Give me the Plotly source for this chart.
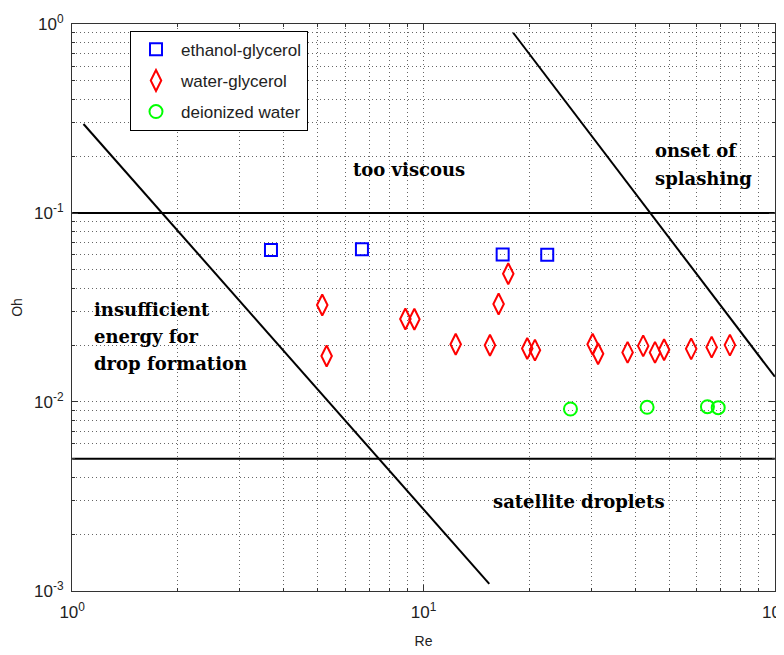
import plotly.graph_objects as go

# ---- data ----
re_eg = [3.68, 6.68, 16.8, 22.5]
oh_eg = [0.0637, 0.0643, 0.0604, 0.0602]

re_wg = [5.15, 5.30, 8.88, 9.42, 12.35, 15.46, 16.36, 17.43, 19.74, 20.76,
         30.3, 31.4, 38.1, 42.2, 45.6, 48.4, 57.8, 66.1, 74.5]
oh_wg = [0.0326, 0.0175, 0.0275, 0.0274, 0.0202, 0.01995, 0.0330, 0.0477, 0.0192, 0.0188,
         0.0202, 0.0180, 0.0183, 0.0198, 0.0183, 0.0189, 0.0191, 0.0195, 0.0200]

re_dw = [26.2, 43.3, 64.3, 69.0]
oh_dw = [0.00918, 0.00937, 0.00944, 0.00933]

# boundary lines
re_low = [1.077, 15.39]
oh_low = [0.296, 0.00109]
re_splash = [18.0, 100.0]
oh_splash = [0.90, 0.0136]
re_span = [1.0, 100.0]
oh_viscous = [0.1, 0.1]
oh_satellite = [0.005, 0.005]

# axis ticks
x_tickvals = [1, 10, 100]
x_ticktext = ["10<sup>0</sup>", "10<sup>1</sup>", "10<sup>2</sup>"]
y_tickvals = [0.001, 0.01, 0.1, 1]
y_ticktext = ["10<sup>-3</sup>", "10<sup>-2</sup>", "10<sup>-1</sup>", "10<sup>0</sup>"]
x_minor = [m * d for d in (1, 10) for m in range(2, 10)]
y_minor = [m * d for d in (0.001, 0.01, 0.1) for m in range(2, 10)]

# region labels: (text, log10 Re, log10 Oh, anchor)
labels = [
    ("too viscous", 0.960, -0.767, "center"),
    ("onset of", 1.653, -0.667, "left"),
    ("splashing", 1.653, -0.815, "left"),
    ("insufficient", 0.057, -1.508, "left"),
    ("energy for", 0.057, -1.656, "left"),
    ("drop formation", 0.057, -1.799, "left"),
    ("satellite droplets", 1.442, -2.527, "center"),
]

fig = go.Figure()

line_style = dict(color="black", width=2)
for xs, ys in [(re_low, oh_low), (re_splash, oh_splash),
               (re_span, oh_viscous), (re_span, oh_satellite)]:
    fig.add_trace(go.Scatter(x=xs, y=ys, mode="lines", line=line_style,
                             showlegend=False, hoverinfo="skip"))

fig.add_trace(go.Scatter(x=re_eg, y=oh_eg, mode="markers", name="ethanol-glycerol",
                         legendgroup="a",
                         marker=dict(symbol="square-open", size=12, color="#0000ff",
                                     line=dict(width=2, color="#0000ff"))))
fig.add_trace(go.Scatter(x=re_wg, y=oh_wg, mode="markers", name="water-glycerol",
                         legendgroup="b",
                         marker=dict(symbol="diamond-tall-open", size=15, color="#ff0000",
                                     line=dict(width=2, color="#ff0000"))))
fig.add_trace(go.Scatter(x=re_dw, y=oh_dw, mode="markers", name="deionized water",
                         legendgroup="c",
                         marker=dict(symbol="circle-open", size=13, color="#00ff00",
                                     line=dict(width=2, color="#00ff00"))))

for text, lx, ly, anc in labels:
    fig.add_annotation(x=lx, y=ly, xref="x", yref="y", text=text, showarrow=False,
                       xanchor=anc, yanchor="middle",
                       font=dict(family="DejaVu Serif", size=18, color="black",
                                 weight="bold"))

grid_common = dict(gridcolor="rgba(0,0,0,0.6)", griddash="1px,3px", gridwidth=1)

fig.update_xaxes(type="log", range=[-0.0005, 2.0005], tickmode="array", tickvals=x_tickvals,
                 ticktext=x_ticktext, ticks="inside", ticklen=6, tickcolor="#333",
                 showline=True, linecolor="#333", linewidth=1, mirror="allticks",
                 showgrid=True, zeroline=False, ticklabelstandoff=6, automargin=False,
                 ticklabeloverflow="allow",
                 tickfont=dict(family="Liberation Sans", size=17, color="#222"),
                 title=dict(text="Re", font=dict(family="Liberation Sans", size=14,
                                                 color="#222"), standoff=14),
                 minor=dict(tickmode="array", tickvals=x_minor, ticks="inside",
                            ticklen=3, tickcolor="#333", showgrid=True, **grid_common),
                 **grid_common)
fig.update_yaxes(type="log", range=[-3.0005, 0.0005], tickmode="array", tickvals=y_tickvals,
                 ticktext=y_ticktext, ticks="inside", ticklen=6, tickcolor="#333",
                 showline=True, linecolor="#333", linewidth=1, mirror="allticks",
                 showgrid=True, zeroline=False, ticklabelstandoff=4, automargin=False,
                 ticklabeloverflow="allow",
                 tickfont=dict(family="Liberation Sans", size=17, color="#222"),
                 title=dict(text="Oh", font=dict(family="Liberation Sans", size=14,
                                                 color="#222"), standoff=8),
                 minor=dict(tickmode="array", tickvals=y_minor, ticks="inside",
                            ticklen=3, tickcolor="#333", showgrid=True, **grid_common),
                 **grid_common)

# page body adds an 8px margin, so the figure is sized to fit inside the window
fig.update_layout(
    width=776, height=647,
    margin=dict(l=64, r=9, t=16, b=64),
    paper_bgcolor="white", plot_bgcolor="white",
    showlegend=True,
    legend=dict(x=0.0825, y=0.988, xanchor="left", yanchor="top",
                bgcolor="white", bordercolor="black", borderwidth=1,
                tracegroupgap=6, itemwidth=40,
                font=dict(family="Liberation Sans", size=17, color="#222")),
)

fig.write_html("out.html")
